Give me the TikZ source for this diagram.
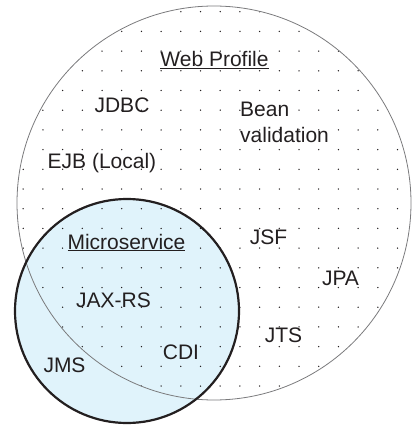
\documentclass[tikz,border=0pt]{standalone}
\usepackage{fontspec}
\setmainfont{Liberation Sans}
\definecolor{microblue}{HTML}{E0F3FB}
\definecolor{rimgray}{HTML}{7A7A7C}
\definecolor{inkgray}{HTML}{231F20}

\begin{document}
\begin{tikzpicture}[x=1pt,y=-1pt,
		spec/.style={font=\fontsize{21}{25}\selectfont, text=inkgray, inner sep=0pt, anchor=base},
		griddot/.style={fill=inkgray}
		]
		\useasboundingbox (0,0) rectangle (413,425);
		\coordinate (webc) at (214,203);
		\coordinate (microc) at (127,311);
		\fill[microblue] (microc) circle (112pt);
		\begin{scope}
			\clip (webc) circle (197pt);
			\foreach \i in {-6,...,15}
			\foreach \j in {-1,...,21}
			\fill[griddot] (121.7+19.7*\i,11.7+19.7*\j) circle (0.75pt);
		\end{scope}
		\draw[rimgray, line width=0.8pt] (webc) circle (197pt);
		\draw[inkgray, line width=2.2pt] (microc) circle (112pt);
		% labels
		\node[spec] (web) at (214.5,67) {\underline{Web Profile}};
		\node[spec] (jdbc) at (122,112) {JDBC};
		\node[spec, anchor=base west, align=left] (bean) at (240,142) {Bean\\validation};
		\node[spec] (ejb) at (102,168) {EJB (Local)};
		\node[spec] (micro) at (126.5,249) {\underline{Microservice}};
		\node[spec] (jsf) at (268.5,244) {JSF};
		\node[spec] (jpa) at (340.5,285) {JPA};
		\node[spec] (jaxrs) at (113.5,307) {JAX-RS};
		\node[spec] (jts) at (283.5,342) {JTS};
		\node[spec] (cdi) at (181,359) {CDI};
		\node[spec] (jms) at (64.5,372) {JMS};
\end{tikzpicture}
\end{document}
